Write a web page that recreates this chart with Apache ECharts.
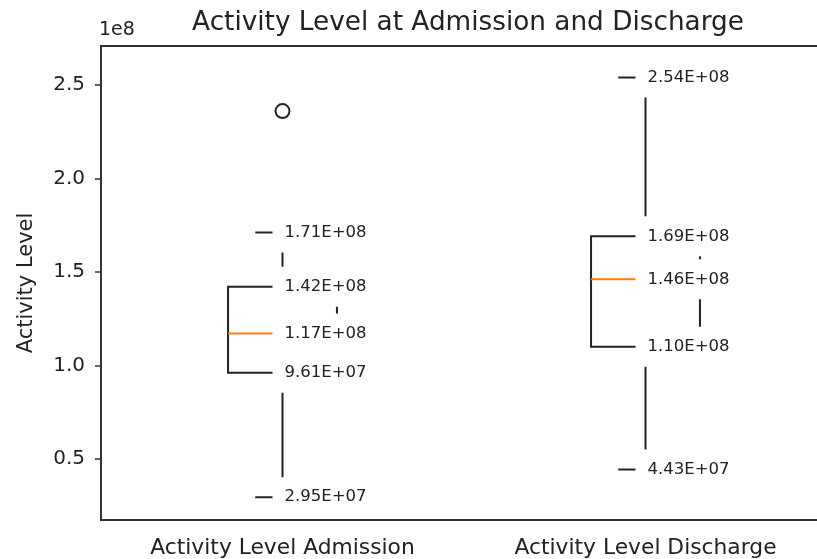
<!DOCTYPE html>
<html>
<head>
<meta charset="utf-8">
<title>Activity Level at Admission and Discharge</title>
<script src="https://cdn.jsdelivr.net/npm/echarts@6/dist/echarts.min.js"></script>
<style>
    html, body {
        margin: 0;
        padding: 0;
        background: #fff;
        overflow: hidden;
    }

    #chart {
        width: 817px;
        height: 559px;
    }
</style>
</head>
<body>
<div id="chart"></div>
<script>
// data
const categories = ['Activity Level Admission', 'Activity Level Discharge']
// [min, Q1, median, Q3, max]
const admissionStats = [2.95e7, 9.61e7, 1.17e8, 1.42e8, 1.71e8]
const dischargeStats = [4.43e7, 1.10e8, 1.46e8, 1.69e8, 2.54e8]
const admissionOutliers = [2.36e8]
const dischargeOutliers = []
const yTicks = [0.5e8, 1.0e8, 1.5e8, 2.0e8, 2.5e8]

const font = 'DejaVu Sans'
const ink = '#222'

// 1.71e8 -> "1.71E+08"
function fmtE(v) {
    const s = v.toExponential(2).toUpperCase()
    return s.replace(/E([+-])(\d)$/, (m, sign, d) => 'E' + sign + '0' + d)
}

const allStats = [admissionStats, dischargeStats]
const allOutliers = [admissionOutliers, dischargeOutliers]

const boxData = allStats.map((s, i) => [i, ...s])
const labelData = []
allStats.forEach((s, i) => s.forEach(v => labelData.push([i, v])))
const outlierData = []
allOutliers.forEach((o, i) => o.forEach(v => outlierData.push([i, v])))

// matplotlib style box: caps are half the box width, median in orange
function renderBox(params, api) {
    const i = api.value(0)
    const pMin = api.coord([i, api.value(1)])
    const pQ1 = api.coord([i, api.value(2)])
    const pMed = api.coord([i, api.value(3)])
    const pQ3 = api.coord([i, api.value(4)])
    const pMax = api.coord([i, api.value(5)])
    const half = api.size([1, 0])[0] * 0.15
    const cx = pMed[0]
    const style = { stroke: ink, lineWidth: 2, fill: null }
    return {
        type: 'group',
        children: [
            { type: 'rect', shape: { x: cx - half, y: pQ3[1], width: half * 2, height: pQ1[1] - pQ3[1] }, style: style },
            { type: 'line', shape: { x1: cx, y1: pQ3[1], x2: cx, y2: pMax[1] }, style: style },
            { type: 'line', shape: { x1: cx, y1: pQ1[1], x2: cx, y2: pMin[1] }, style: style },
            { type: 'line', shape: { x1: cx - half / 2, y1: pMax[1], x2: cx + half / 2, y2: pMax[1] }, style: style },
            { type: 'line', shape: { x1: cx - half / 2, y1: pMin[1], x2: cx + half / 2, y2: pMin[1] }, style: style },
            { type: 'line', shape: { x1: cx - half, y1: pMed[1], x2: cx + half, y2: pMed[1] }, style: { stroke: '#ff7f0e', lineWidth: 2 } }
        ]
    }
}

const chart = echarts.init(document.getElementById('chart'))
chart.setOption({
    animation: false,
    backgroundColor: '#fff',
    textStyle: { fontFamily: font },
    title: {
        text: 'Activity Level at Admission and Discharge',
        left: 463,
        top: 5,
        textAlign: 'center',
        textStyle: { fontFamily: font, fontSize: 26.3, fontWeight: 'normal', color: ink }
    },
    graphic: [
        {
            type: 'text',
            left: 99,
            top: 21,
            style: { text: '1e8', fontFamily: font, fontSize: 19, fill: ink }
        }
    ],
    grid: {
        left: 101,
        top: 46,
        width: 726,
        height: 474,
        outerBoundsMode: 'none',
        containLabel: false,
        show: true,
        borderColor: '#333',
        borderWidth: 2
    },
    xAxis: {
        type: 'category',
        data: categories,
        boundaryGap: true,
        axisLine: { lineStyle: { color: '#333', width: 2 } },
        axisTick: { alignWithLabel: true, length: 6, lineStyle: { color: '#333', width: 1.5 } },
        axisLabel: { fontFamily: font, fontSize: 21.8, color: ink, margin: 17 },
        splitLine: { show: false }
    },
    yAxis: {
        type: 'value',
        min: 0.173e8,
        max: 2.708e8,
        name: 'Activity Level',
        nameLocation: 'middle',
        nameRotate: 90,
        nameGap: 64,
        nameTextStyle: { fontFamily: font, fontSize: 21, color: ink },
        axisLine: { show: true, lineStyle: { color: '#333', width: 2 } },
        axisTick: { show: true, customValues: yTicks, length: 6, lineStyle: { color: '#333', width: 1.5 } },
        axisLabel: {
            customValues: yTicks,
            fontFamily: font,
            fontSize: 20,
            color: ink,
            margin: 16,
            formatter: v => (v / 1e8).toFixed(1)
        },
        splitLine: { show: false }
    },
    series: [
        {
            type: 'custom',
            name: 'box',
            z: 2,
            renderItem: renderBox,
            encode: { x: 0, y: [1, 2, 3, 4, 5] },
            data: boxData
        },
        {
            type: 'scatter',
            name: 'outliers',
            z: 3,
            symbol: 'circle',
            symbolSize: 14,
            itemStyle: { color: '#fff', borderColor: ink, borderWidth: 2, opacity: 1 },
            data: outlierData
        },
        {
            // value labels with a white box over the right half of the boxes
            type: 'scatter',
            name: 'labels',
            z: 5,
            symbolSize: 0,
            silent: true,
            itemStyle: { opacity: 1 },
            data: labelData,
            label: {
                show: true,
                position: 'right',
                distance: 0,
                offset: [-10, 0],
                padding: [11, 4, 10, 12],
                backgroundColor: '#fff',
                fontFamily: font,
                fontSize: 16.5,
                lineHeight: 19,
                color: ink,
                formatter: p => fmtE(p.value[1])
            }
        }
    ]
})
</script>
</body>
</html>
